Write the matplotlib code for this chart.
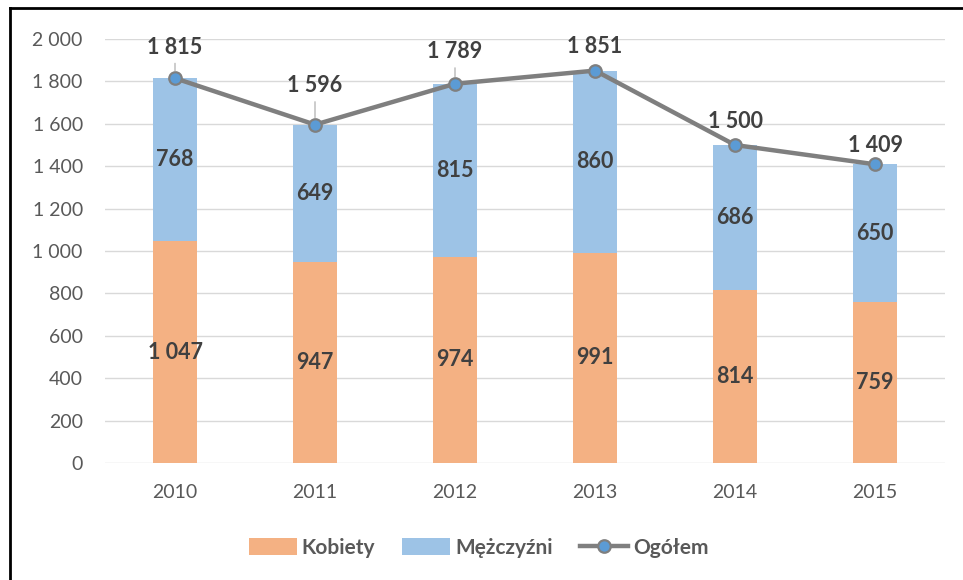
# plot.py
# stacked bars (kobiety + mezczyzni) with total line on top
# excel-ish look: light grid, no spines, bold data labels

import numpy as np
import matplotlib
matplotlib.use("Agg")
import matplotlib.pyplot as plt
from matplotlib.lines import Line2D
from matplotlib.patches import Patch
from matplotlib.ticker import FuncFormatter

years    = ["2010", "2011", "2012", "2013", "2014", "2015"]
kobiety  = [1047, 947, 974, 991, 814, 759]
mezczyzni = [768, 649, 815, 860, 686, 650]
ogolem   = [1815, 1596, 1789, 1851, 1500, 1409]

# label offset above the total marker, in pixels (some were nudged by hand in the original)
total_offsets = [31, 39, 32, 24, 23, 19]

C_KOB  = "#F4B183"
C_MEZ  = "#9DC3E6"
C_LINE = "#7F7F7F"
C_MARK = "#5B9BD5"
C_TXT  = "#404040"
C_TICK = "#595959"

plt.rcParams["font.family"] = ["Lato", "DejaVu Sans"]


def spaced(v, pos=None):
    return f"{int(v):,}".replace(",", " ")


fig = plt.figure(figsize=(9.63, 5.8), dpi=100)
fig.patch.set_facecolor("white")
ax = fig.add_axes([105/963, 117/580, 840/963, 424/580])

x = np.arange(len(years))
w = 0.32
ax.bar(x, kobiety, w, color=C_KOB, zorder=2)
ax.bar(x, mezczyzni, w, bottom=kobiety, color=C_MEZ, zorder=2)
ax.plot(x, ogolem, color=C_LINE, lw=3.2, marker="o", ms=9,
        mfc=C_MARK, mec=C_LINE, mew=1.6, zorder=3)

# segment labels, centered in each part
for i in range(len(years)):
    ax.text(x[i], kobiety[i] / 2, spaced(kobiety[i]), ha="center", va="center",
            fontsize=15.5, fontweight="bold", color=C_TXT, zorder=4)
    ax.text(x[i], kobiety[i] + mezczyzni[i] / 2, spaced(mezczyzni[i]),
            ha="center", va="center", fontsize=15.5, fontweight="bold",
            color=C_TXT, zorder=4)

# total labels, with a thin leader line where the label was pulled away
for i, v in enumerate(ogolem):
    off = total_offsets[i] * 0.72
    props = None
    if total_offsets[i] > 30:
        props = dict(arrowstyle="-", color="#A6A6A6", lw=0.8,
                     shrinkA=2, shrinkB=5)
    ax.annotate(spaced(v), (x[i], v), xytext=(0, off), textcoords="offset points",
                ha="center", va="center", fontsize=15.5, fontweight="bold",
                color=C_TXT, arrowprops=props, zorder=4)

ax.set_xlim(-0.5, len(years) - 0.5)
ax.set_ylim(0, 2000)
ax.set_yticks(np.arange(0, 2001, 200))
ax.yaxis.set_major_formatter(FuncFormatter(spaced))
ax.set_xticks(x)
ax.set_xticklabels(years)
ax.tick_params(axis="both", length=0, labelsize=14, colors=C_TICK)
ax.tick_params(axis="y", pad=16)
ax.tick_params(axis="x", pad=15)
ax.grid(axis="y", color="#D9D9D9", lw=1, zorder=0)
ax.set_axisbelow(True)
for s in ax.spines.values():
    s.set_visible(False)

handles = [
    Patch(facecolor=C_KOB, label="Kobiety"),
    Patch(facecolor=C_MEZ, label="Mężczyźni"),
    Line2D([0], [0], color=C_LINE, lw=3.2, marker="o", ms=9,
           mfc=C_MARK, mec=C_LINE, mew=1.6, label="Ogółem"),
]
leg = fig.legend(handles=handles, loc="center", bbox_to_anchor=(0.497, 32/580),
                 ncol=3, frameon=False, handlelength=2.3, handleheight=0.85,
                 columnspacing=1.3, handletextpad=0.25,
                 prop=dict(size=15, weight="bold"))
for t in leg.get_texts():
    t.set_color(C_TICK)

# border of the cropped frame (top and left edges visible)
fig.add_artist(Line2D([10/963, 1.0], [1 - 8/580, 1 - 8/580], color="black", lw=2,
                      transform=fig.transFigure))
fig.add_artist(Line2D([10/963, 10/963], [0, 1 - 8/580], color="black", lw=2,
                      transform=fig.transFigure))

fig.savefig("out.png", dpi=100)
